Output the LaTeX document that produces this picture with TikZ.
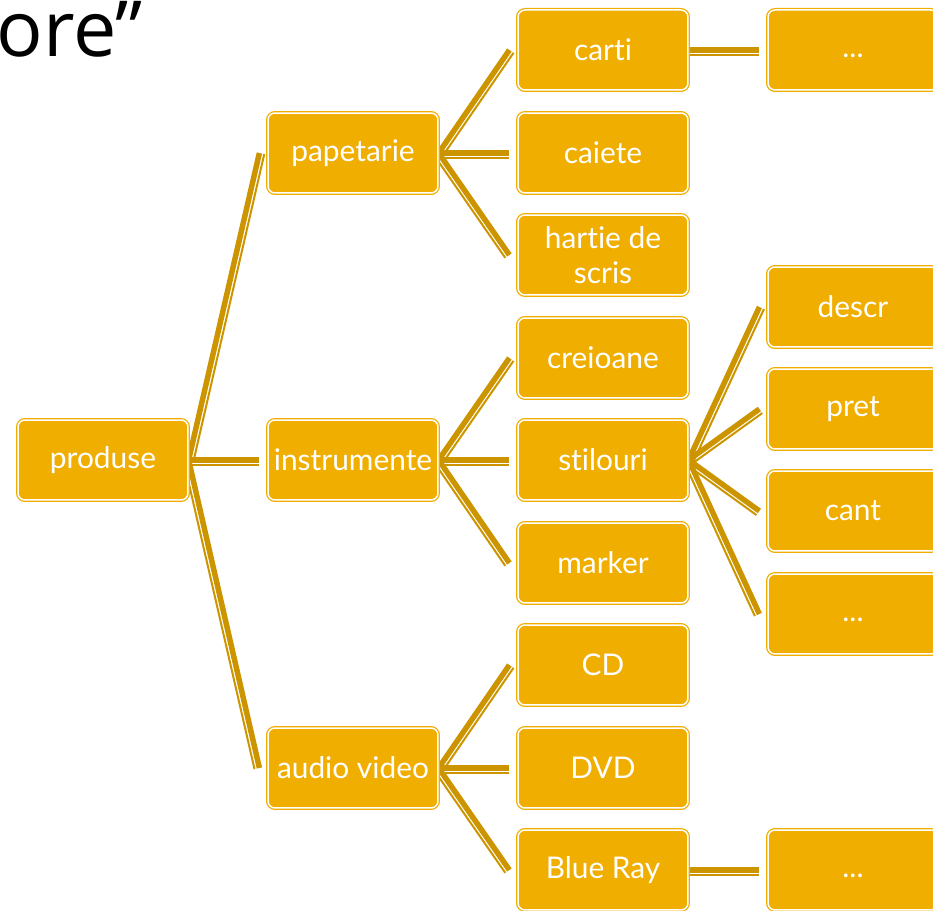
\documentclass[tikz,border=0pt]{standalone}
\usepackage{fontspec}
\setmainfont{Lato}[Ligatures=NoCommon]
\newfontfamily\titlefont{Open Sans}
\usetikzlibrary{calc,backgrounds}

\definecolor{gold}{HTML}{F0AE00}
\definecolor{golddark}{HTML}{CC9500}

\tikzset{
  box/.style={draw=gold, double=white, double distance=0.03cm, line width=0.025cm,
    fill=gold, rounded corners=0.14cm, minimum width=3.4cm, minimum height=1.6cm,
    inner sep=0pt, align=center, text=white, font=\fontsize{17}{20}\selectfont},
  linkthick/.style={golddark, line width=0.11cm},
  linkthin/.style={golddark, line width=0.04cm},
}

% thick line plus thin line on its right side, parent to child
\newcommand{\branchline}[2]{%
  \coordinate (#2-in) at ($(#2.west)+(-8,0)$);
  \draw[linkthick] (#1.east) -- (#2-in);
  \draw[linkthin] ($(#1.east)!0.1cm!-90:(#2-in)$) -- ($(#2-in)!0.1cm!90:(#1.east)$);
}

\begin{document}
\begin{tikzpicture}[x=0.02cm, y=-0.02cm]
	\useasboundingbox (0,0) rectangle (933,911);

	\node[anchor=base west, inner sep=0pt, font=\titlefont\fontsize{44}{48}\selectfont] (title) at (-4,57) {ore”};

	\node[box] (produse) at (103,460) {produse};

	\node[box] (papetarie) at (353,153) {papetarie};
	\node[box] (instrumente) at (353,460) {instrumente};
	\node[box] (audio) at (353,768) {audio video};

	\node[box] (carti) at (603,50) {carti};
	\node[box] (caiete) at (603,153) {caiete};
	\node[box] (hartie) at (603,255) {hartie de\\scris};
	\node[box] (creioane) at (603,358) {creioane};
	\node[box] (stilouri) at (603,460) {stilouri};
	\node[box] (marker) at (603,563) {marker};
	\node[box] (cd) at (603,665) {CD};
	\node[box] (dvd) at (603,768) {DVD};
	\node[box] (blueray) at (603,870) {Blue Ray};

	\node[box] (cartimore) at (853,50) {\strut...};
	\node[box] (descr) at (853,307) {descr};
	\node[box] (pret) at (853,409) {pret};
	\node[box] (cant) at (853,511) {cant};
	\node[box] (stiloumore) at (853,614) {\strut...};
	\node[box] (bluemore) at (853,870) {\strut...};

	\begin{pgfonlayer}{background}
		\branchline{produse}{papetarie}
		\branchline{produse}{instrumente}
		\branchline{produse}{audio}

		\branchline{papetarie}{carti}
		\branchline{papetarie}{caiete}
		\branchline{papetarie}{hartie}
		\branchline{instrumente}{creioane}
		\branchline{instrumente}{stilouri}
		\branchline{instrumente}{marker}
		\branchline{audio}{cd}
		\branchline{audio}{dvd}
		\branchline{audio}{blueray}

		\branchline{carti}{cartimore}
		\branchline{stilouri}{descr}
		\branchline{stilouri}{pret}
		\branchline{stilouri}{cant}
		\branchline{stilouri}{stiloumore}
		\branchline{blueray}{bluemore}
	\end{pgfonlayer}
\end{tikzpicture}
\end{document}
